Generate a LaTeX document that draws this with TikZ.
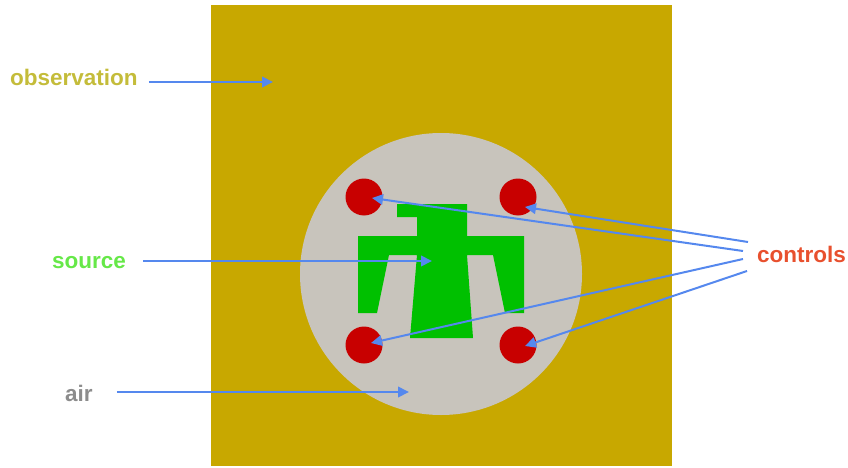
\documentclass[tikz,border=0pt]{standalone}
\usepackage{fontspec}
\setmainfont{Liberation Sans}
\usetikzlibrary{arrows.meta}
\definecolor{obsgold}{RGB}{200,168,0}
\definecolor{airgray}{RGB}{200,196,188}
\definecolor{srcgreen}{RGB}{0,192,0}
\definecolor{ctlred}{RGB}{200,0,0}
\definecolor{ptrblue}{RGB}{85,136,238}
\definecolor{obstext}{RGB}{196,188,58}
\definecolor{srctext}{RGB}{102,232,72}
\definecolor{airtext}{RGB}{140,140,140}
\definecolor{ctltext}{RGB}{232,80,46}
\tikzset{
  ptr/.style = {-{Triangle[length=11pt,width=10.5pt]},ptrblue,line width=2pt},
  lbl/.style = {font=\fontsize{22.5}{27}\selectfont\bfseries,inner sep=0pt,anchor=base west}
}

\begin{document}
\begin{tikzpicture}[x=1pt,y=-1pt]
  \useasboundingbox (0,0) rectangle (848,468);
  % regions
  \fill[obsgold] (211,5) rectangle (672,466);
  \fill[airgray] (441,274) circle[radius=141pt];
  \fill[srcgreen] (397,204) -- (467,204) -- (467,236) -- (524,236) -- (524,313)
    -- (505,313) -- (493,255) -- (467,255) -- (473,338) -- (410,338) -- (417,255)
    -- (389,255) -- (377,313) -- (358,313) -- (358,236) -- (417,236) -- (417,217)
    -- (397,217) -- cycle;
  \foreach \x/\y in {364/197,518/197,364/345,518/345}
    \fill[ctlred] (\x,\y) circle[radius=18.5pt];
  % arrow targets
  \coordinate (obsin) at (273,82);
  \coordinate (srcin) at (432,261);
  \coordinate (airin) at (409,392);
  \coordinate (ctltl) at (372,198);
  \coordinate (ctltr) at (525,207);
  \coordinate (ctlbl) at (371,343);
  \coordinate (ctlbr) at (525,346);
  % labels
  \node[lbl,obstext] (obs) at (10,86)  {observation};
  \node[lbl,srctext] (src) at (52,268) {source};
  \node[lbl,airtext] (air) at (65,401) {air};
  \node[lbl,ctltext] (ctl) at (757,262) {controls};
  \draw[ptr] ([shift={(11,-4)}]obs.base east) -- (obsin);
  \draw[ptr] ([shift={(17,-7)}]src.base east) -- (srcin);
  \draw[ptr] ([shift={(24,-9)}]air.base east) -- (airin);
  \draw[ptr] ([shift={(-9,-20)}]ctl.base west) -- (ctltr);
  \draw[ptr] ([shift={(-14,-11)}]ctl.base west) -- (ctltl);
  \draw[ptr] ([shift={(-14,-3)}]ctl.base west) -- (ctlbl);
  \draw[ptr] ([shift={(-10,9)}]ctl.base west) -- (ctlbr);
\end{tikzpicture}
\end{document}
